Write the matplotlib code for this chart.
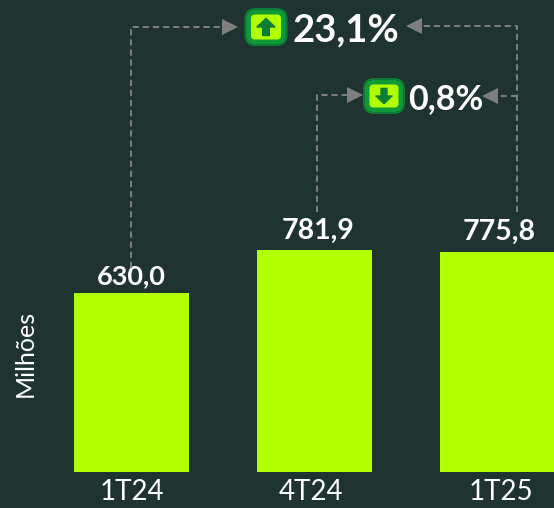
import matplotlib
matplotlib.use("Agg")
import matplotlib.pyplot as plt
from matplotlib.patches import FancyBboxPatch, Polygon

plt.rcParams['font.family'] = ['Lato', 'DejaVu Sans']

categories = ["1T24", "4T24", "1T25"]
values = [630.0, 781.9, 775.8]
value_labels = ["630,0", "781,9", "775,8"]
growth_labels = ["23,1%", "0,8%"]

BG = "#1f3430"
LIME = "#b2ff00"
GREY = "#7f7f7f"
W, H = 554, 508

fig = plt.figure(figsize=(W / 100, H / 100), dpi=100, facecolor=BG)

# eixo dos dados: barras e rotulos
ax = fig.add_axes([0, 0, 1, 1], facecolor=BG)
px_x = 183.3
px_y = 179 / 630
ax.set_xlim(-131.4 / px_x, (W - 131.4) / px_x)
ax.set_ylim(-(H - 472) / px_y, 472 / px_y)
ax.axis("off")
xs = range(len(categories))
ax.bar(xs, values, width=115 / px_x, color=LIME)
label_shift = [0, 2.5, 0.5]
cat_shift = [0.5, -3, 2.5]
label_size = [19.5, 20.5, 20.5]
label_up = [3.5, 4.5, 4.5]
for i in xs:
    ax.annotate(value_labels[i], (i, values[i]), xytext=(label_shift[i], label_up[i]), textcoords="offset points",
                ha="center", va="bottom", color="white", fontsize=label_size[i], fontweight="bold")
    ax.annotate(categories[i], (i, 0), xytext=(cat_shift[i], -5), textcoords="offset points",
                ha="center", va="top", color="white", fontsize=20)

# camada em pixels: setas e icones
ov = fig.add_axes([0, 0, 1, 1])
ov.set_xlim(0, W)
ov.set_ylim(H, 0)
ov.axis("off")


def dashed(xx, yy):
    ov.plot(xx, yy, color=GREY, lw=1.4, dashes=(3.2, 2.0), solid_capstyle="butt")


def head(x, y, direction, size=16):
    ov.add_patch(Polygon([(x, y), (x - direction * size, y - 8), (x - direction * size, y + 8)],
                         closed=True, color=GREY, lw=0))


def icon(cx, cy, w, h, up, scale):
    ov.add_patch(FancyBboxPatch((cx - w / 2 + 8, cy - h / 2 + 8), w - 16, h - 16,
                                boxstyle="round,pad=8,rounding_size=10", fc="#0f9a35", ec="#0c7a35", lw=1.5))
    ov.add_patch(FancyBboxPatch((cx - w / 2 + 8, cy - h / 2 + 8), w - 16, h - 16,
                                boxstyle="round,pad=2.5,rounding_size=4", fc=LIME, ec="none"))
    s = -1 if up else 1
    pts = [(-3.5, -9), (3.5, -9), (3.5, 0), (9.5, 0), (0, 9), (-9.5, 0), (-3.5, 0)]
    ov.add_patch(Polygon([(cx + px * scale, cy + s * py * scale) for px, py in pts],
                         closed=True, fc="#0b7d35", ec="#0b7d35", lw=1, joinstyle="round"))


dashed([131, 131, 222], [268, 27, 27])
head(238, 27, 1)
dashed([317, 317, 347], [212, 95, 95])
head(363, 95, 1)
dashed([517, 517, 422], [212, 26, 26])
head(406, 26, -1)
dashed([517, 498], [96, 96])
head(482, 96, -1)

icon(266, 27, 41, 36, True, 0.95)
icon(384, 96, 40, 34, False, 0.85)
ov.text(346, 30, growth_labels[0], ha="center", va="center", color="white", fontsize=27.5, fontweight="bold")
ov.text(446, 99, growth_labels[1], ha="center", va="center", color="white", fontsize=24.5, fontweight="bold")
ov.text(25, 353, "Milhões", rotation=90, ha="center", va="center", color="white", fontsize=18)

fig.savefig("out.png", dpi=100, facecolor=BG)
